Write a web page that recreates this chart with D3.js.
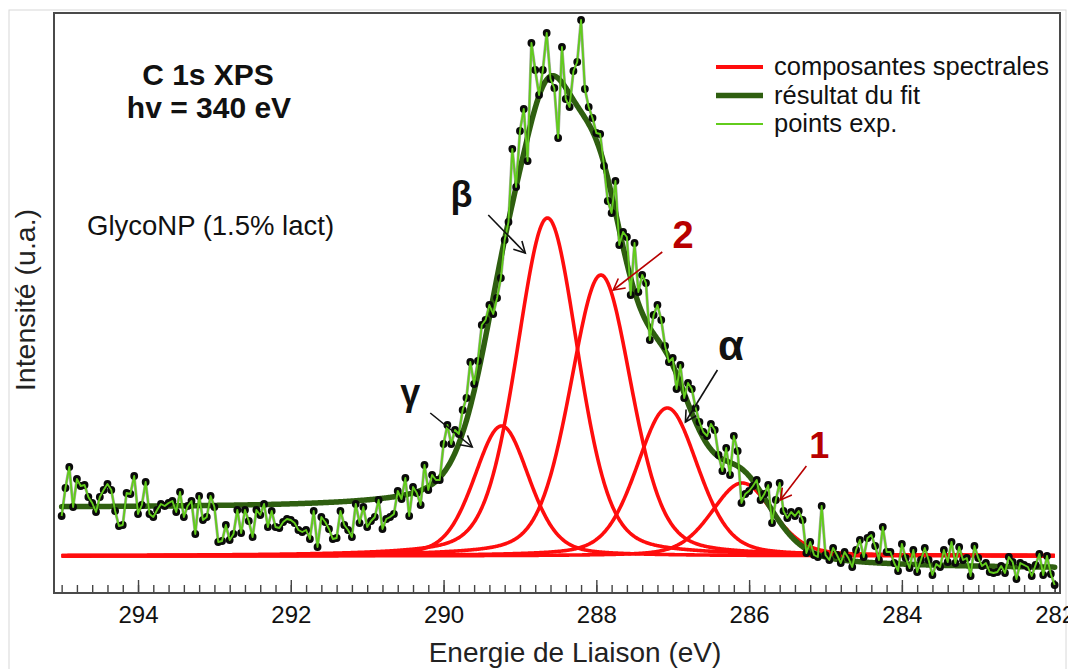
<!DOCTYPE html>
<html><head><meta charset="utf-8">
<script src="https://cdn.jsdelivr.net/npm/d3@7"></script>
<style>
body{margin:0;background:#fff}
svg{display:block}
text{font-family:"Liberation Sans",Arial,sans-serif}
</style>
</head><body>
<svg id="chart" width="1068" height="669"></svg>
<script>
// ---------- DATA ----------
const expEnergy = [
295,294.95,294.9,294.85,294.8,294.75,294.7,294.65,294.6,294.55,294.5,294.45,294.4,294.35,294.3,294.25,294.2,294.15,294.1,294.05,
294,293.95,293.9,293.85,293.8,293.75,293.7,293.65,293.6,293.55,293.5,293.45,293.4,293.35,293.3,293.25,293.2,293.15,293.1,293.05,
293,292.95,292.9,292.85,292.8,292.75,292.7,292.65,292.6,292.55,292.5,292.45,292.4,292.35,292.3,292.25,292.2,292.15,292.1,292.05,
292,291.95,291.9,291.85,291.8,291.75,291.7,291.65,291.6,291.55,291.5,291.45,291.4,291.35,291.3,291.25,291.2,291.15,291.1,291.05,
291,290.95,290.9,290.85,290.8,290.75,290.7,290.65,290.6,290.55,290.5,290.45,290.4,290.35,290.3,290.25,290.2,290.15,290.1,290.05,
290,289.95,289.9,289.85,289.8,289.75,289.7,289.65,289.6,289.55,289.5,289.45,289.4,289.35,289.3,289.25,289.2,289.15,289.1,289.05,
289,288.95,288.9,288.85,288.8,288.75,288.7,288.65,288.6,288.55,288.5,288.45,288.4,288.35,288.3,288.25,288.2,288.15,288.1,288.05,
288,287.95,287.9,287.85,287.8,287.75,287.7,287.65,287.6,287.55,287.5,287.45,287.4,287.35,287.3,287.25,287.2,287.15,287.1,287.05,
287,286.95,286.9,286.85,286.8,286.75,286.7,286.65,286.6,286.55,286.5,286.45,286.4,286.35,286.3,286.25,286.2,286.15,286.1,286.05,
286,285.95,285.9,285.85,285.8,285.75,285.7,285.65,285.6,285.55,285.5,285.45,285.4,285.35,285.3,285.25,285.2,285.15,285.1,285.05,
285,284.95,284.9,284.85,284.8,284.75,284.7,284.65,284.6,284.55,284.5,284.45,284.4,284.35,284.3,284.25,284.2,284.15,284.1,284.05,
284,283.95,283.9,283.85,283.8,283.75,283.7,283.65,283.6,283.55,283.5,283.45,283.4,283.35,283.3,283.25,283.2,283.15,283.1,283.05,
283,282.95,282.9,282.85,282.8,282.75,282.7,282.65,282.6,282.55,282.5,282.45,282.4,282.35,282.3,282.25,282.2,282.15,282.1,282.05,
282];
const expIntensity = [
77,105,126,86,114,107,108,96,90,81,96,103,109,103,82,67,68,100,99,117,
79,88,111,79,76,83,89,87,90,92,81,101,76,87,92,59,97,73,76,97,
86,51,52,68,53,59,83,60,83,72,56,83,78,89,66,82,66,65,71,74,
73,70,63,61,63,54,82,46,76,71,64,54,55,82,68,63,56,89,70,86,
66,72,76,93,64,74,76,79,102,94,115,77,106,100,88,128,103,118,113,113,
149,168,149,163,159,183,195,231,209,232,268,273,288,279,295,315,353,371,444,406,
462,484,432,550,523,498,523,560,514,505,455,546,494,486,522,531,573,504,486,475,
460,459,427,392,380,412,348,361,356,298,350,301,318,310,253,278,288,273,247,231,
235,204,228,195,210,204,185,171,161,157,169,163,138,122,145,118,157,142,90,99,
102,107,113,93,99,108,70,93,110,82,75,81,77,82,73,40,51,38,36,87,
38,33,45,38,30,41,35,26,43,53,36,55,58,47,33,66,41,41,30,22,
49,35,25,43,21,33,45,33,18,29,26,43,31,51,30,46,33,35,17,47,
35,27,30,21,20,21,27,20,36,31,14,30,28,26,17,28,39,18,37,19,
8];

// spectral components (pseudo-Voigt fit parameters)
const compNames   = ["γ","β","2","α","1"];
const compCenters = [289.24, 288.64, 287.94, 287.07, 286.09];
const compHeights = [130, 338, 281, 148, 73];
const compFwhm    = [0.85, 0.95, 0.95, 0.95, 0.95];
const compOffset  = 37;          // baseline drawn under the components
const bgHigh = 85, bgLow = 24;   // Shirley background ends (high / low binding energy)

const xMajorTicks = [294, 292, 290, 288, 286, 284, 282];
const xMinorTicks = [295,294.8,294.6,294.4,294.2,294,293.8,293.6,293.4,293.2,293,292.8,292.6,292.4,292.2,292,291.8,291.6,291.4,291.2,291,290.8,290.6,290.4,290.2,290,289.8,289.6,289.4,289.2,289,288.8,288.6,288.4,288.2,288,287.8,287.6,287.4,287.2,287,286.8,286.6,286.4,286.2,286,285.8,285.6,285.4,285.2,285,284.8,284.6,284.4,284.2,284,283.8,283.6,283.4,283.2,283,282.8,282.6,282.4,282.2,282];

const legendLabels = ["composantes spectrales", "résultat du fit", "points exp."];

// annotations (in data units)
const annotText  = ["β", "γ", "α", "2", "1"];
const annotE     = [289.765, 290.437, 286.237, 286.863, 285.083];
const annotI     = [386, 188, 233, 345, 135];
const arrowFromE = [289.415, 290.174, 286.415, 287.137, 285.25];
const arrowFromI = [378, 180, 223, 341, 127];
const arrowToE   = [288.93, 289.625, 286.834, 287.778, 285.59];
const arrowToI   = [340, 146, 171, 303, 93];

// ---------- DRAW ----------
const svg = d3.select("#chart");
const x = d3.scaleLinear().domain([295.1, 281.93]).range([54, 1060]);
const y = d3.scaleLinear().domain([0, 580]).range([593, 13]);

const RED = "#ff0d0d", FIT = "#2f5f10", PTS = "#62cc1c", DARKRED = "#b80000";
const eta = 0.3;
function pv(E, c, h, f) {
  const d = (E - c) / f;
  return h * ((1 - eta) * Math.exp(-4 * Math.LN2 * d * d) + eta / (1 + 4 * d * d));
}

// model evaluation grid (low -> high binding energy)
const grid = d3.range(0, 1301).map(k => 282 + k * 0.01);
const peakSum = grid.map(E => d3.sum(compCenters, (c, j) => pv(E, c, compHeights[j], compFwhm[j])));
const cum = [];
let acc = 0;
peakSum.forEach((v, k) => { acc += v; cum.push(acc); });
const fitVals = grid.map((E, k) => bgLow + (bgHigh - bgLow) * cum[k] / acc + peakSum[k]);

// outer light border
svg.append("rect").attr("x", 9).attr("y", 10).attr("width", 1057).attr("height", 680)
  .attr("fill", "none").attr("stroke", "#d8d8d8").attr("stroke-width", 1);

// axes ticks (inside)
const gMinor = svg.append("g").attr("transform", "translate(0,593)")
  .call(d3.axisBottom(x).tickValues(xMinorTicks).tickSize(-8).tickFormat(""));
const gMajor = svg.append("g").attr("transform", "translate(0,593)")
  .call(d3.axisBottom(x).tickValues(xMajorTicks).tickSize(-13).tickPadding(13).tickFormat(d3.format("d")));
[gMinor, gMajor].forEach(g => {
  g.select(".domain").remove();
  g.selectAll(".tick line").attr("stroke", "#444").attr("stroke-width", 1.4);
});
gMajor.selectAll(".tick text").attr("font-size", 24).attr("fill", "#111")
  .attr("font-family", "Liberation Sans, Arial, sans-serif");

// components
const compLine = d3.line().x(d => x(d[0])).y(d => y(d[1]));
compCenters.forEach((c, j) => {
  const pts = grid.map(E => [E, compOffset + pv(E, c, compHeights[j], compFwhm[j])]);
  svg.append("path").attr("d", compLine(pts)).attr("fill", "none")
    .attr("stroke", RED).attr("stroke-width", 3.6).attr("stroke-linejoin", "round");
});

// fit
svg.append("path").attr("d", compLine(grid.map((E, k) => [E, fitVals[k]])))
  .attr("fill", "none").attr("stroke", FIT).attr("stroke-width", 5.5).attr("stroke-linecap", "round");

// experimental points: black dots with a thin dark halo along the trace, green line on top
const expPts = expEnergy.map((E, i) => [E, expIntensity[i]]);
svg.append("path").attr("d", compLine(expPts)).attr("fill", "none")
  .attr("stroke", "#111").attr("stroke-width", 3).attr("stroke-linejoin", "round").attr("opacity", 0.35);
svg.append("g").selectAll("circle").data(expPts).join("circle")
  .attr("cx", d => x(d[0])).attr("cy", d => y(d[1])).attr("r", 3.9).attr("fill", "#0a0a0a");
svg.append("path").attr("d", compLine(expPts)).attr("fill", "none")
  .attr("stroke", PTS).attr("stroke-width", 1.9).attr("stroke-linejoin", "round");

// arrows
const defs = svg.append("defs");
[["arrBlack", "#111"], ["arrRed", DARKRED]].forEach(([id, col]) => {
  defs.append("marker").attr("id", id).attr("viewBox", "0 0 14 14").attr("refX", 12).attr("refY", 7)
    .attr("markerWidth", 14).attr("markerHeight", 14).attr("markerUnits", "userSpaceOnUse").attr("orient", "auto")
    .append("path").attr("d", "M1,1 L12,7 L1,13").attr("fill", "none").attr("stroke", col).attr("stroke-width", 1.6);
});
annotText.forEach((t, j) => {
  const red = (t === "1" || t === "2");
  svg.append("line")
    .attr("x1", x(arrowFromE[j])).attr("y1", y(arrowFromI[j]))
    .attr("x2", x(arrowToE[j])).attr("y2", y(arrowToI[j]))
    .attr("stroke", red ? DARKRED : "#111").attr("stroke-width", 1.6)
    .attr("marker-end", red ? "url(#arrRed)" : "url(#arrBlack)");
});
const annotSize = {"β": 36, "γ": 36, "α": 42, "2": 38, "1": 36};
annotText.forEach((t, j) => {
  const red = (t === "1" || t === "2");
  svg.append("text").attr("x", x(annotE[j])).attr("y", y(annotI[j]))
    .attr("text-anchor", "middle").attr("font-weight", "bold")
    .attr("font-size", annotSize[t]).attr("fill", red ? DARKRED : "#111").text(t);
});

// titles
svg.append("text").attr("x", 208).attr("y", 85).attr("text-anchor", "middle")
  .attr("font-weight", "bold").attr("font-size", 30).attr("fill", "#111").text("C 1s XPS");
svg.append("text").attr("x", 209).attr("y", 118).attr("text-anchor", "middle")
  .attr("font-weight", "bold").attr("font-size", 30).attr("fill", "#111").text("hv = 340 eV");
svg.append("text").attr("x", 87).attr("y", 235)
  .attr("font-size", 27.5).attr("fill", "#111").text("GlycoNP (1.5% lact)");

// legend
const legColors = [RED, FIT, PTS];
const legWidths = [4, 5.5, 2];
legendLabels.forEach((lab, j) => {
  const yy = 67 + j * 28.5;
  svg.append("line").attr("x1", 716).attr("x2", 763).attr("y1", yy).attr("y2", yy)
    .attr("stroke", legColors[j]).attr("stroke-width", legWidths[j]);
  svg.append("text").attr("x", 774).attr("y", yy + 8).attr("font-size", 25.5)
    .attr("fill", "#111").text(lab);
});

// axis titles
svg.append("text").attr("x", 575).attr("y", 662).attr("text-anchor", "middle")
  .attr("font-size", 28).attr("fill", "#222").text("Energie de Liaison (eV)");
svg.append("text").attr("transform", "translate(35,300) rotate(-90)").attr("text-anchor", "middle")
  .attr("font-size", 28.5).attr("fill", "#222").text("Intensité (u.a.)");

// frame
svg.append("rect").attr("x", 54).attr("y", 13).attr("width", 1006).attr("height", 580)
  .attr("fill", "none").attr("stroke", "#4a4a4a").attr("stroke-width", 2);
</script>
</body></html>
